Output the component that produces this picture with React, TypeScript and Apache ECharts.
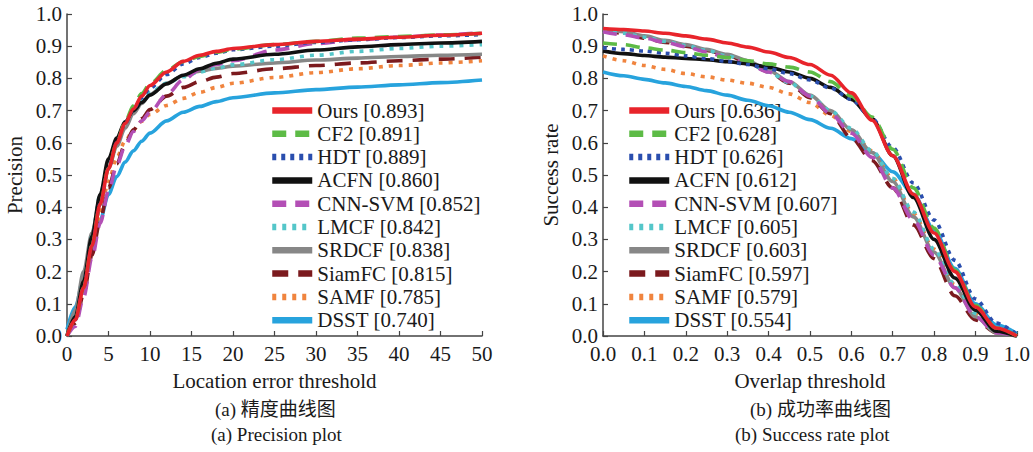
import React, { useEffect, useRef } from "react";
import * as echarts from "echarts";

const methods = ["Ours", "CF2", "HDT", "ACFN", "CNN-SVM", "LMCF", "SRDCF", "SiamFC", "SAMF", "DSST"];
const precisionScores = ["0.893", "0.891", "0.889", "0.860", "0.852", "0.842", "0.838", "0.815", "0.785", "0.740"];
const successScores = ["0.636", "0.628", "0.626", "0.612", "0.607", "0.605", "0.603", "0.597", "0.579", "0.554"];

const precisionX = [0, 1, 2, 3, 4, 5, 6, 7, 8, 9, 10, 12, 14, 16, 18, 20, 25, 30, 35, 40, 45, 50];
const precOurs = [0, 0.05, 0.15, 0.28, 0.41, 0.52, 0.6, 0.66, 0.705, 0.745, 0.778, 0.82, 0.853, 0.872, 0.884, 0.893, 0.905, 0.915, 0.922, 0.928, 0.934, 0.94];
const precCF2 = [0, 0.05, 0.15, 0.28, 0.41, 0.52, 0.6, 0.665, 0.715, 0.753, 0.783, 0.825, 0.852, 0.868, 0.881, 0.891, 0.905, 0.915, 0.925, 0.93, 0.935, 0.94];
const precHDT = [0, 0.05, 0.15, 0.28, 0.41, 0.52, 0.6, 0.66, 0.705, 0.74, 0.77, 0.812, 0.845, 0.865, 0.878, 0.889, 0.9, 0.912, 0.92, 0.927, 0.932, 0.936];
const precACFN = [0, 0.06, 0.17, 0.31, 0.44, 0.55, 0.615, 0.665, 0.7, 0.725, 0.748, 0.783, 0.81, 0.83, 0.847, 0.86, 0.875, 0.888, 0.898, 0.905, 0.91, 0.915];
const precCNNSVM = [0, 0.03, 0.12, 0.24, 0.35, 0.45, 0.53, 0.59, 0.635, 0.668, 0.695, 0.75, 0.795, 0.828, 0.843, 0.855, 0.888, 0.908, 0.92, 0.928, 0.935, 0.942];
const precLMCF = [0, 0.06, 0.17, 0.31, 0.44, 0.54, 0.61, 0.66, 0.7, 0.73, 0.755, 0.785, 0.805, 0.82, 0.832, 0.842, 0.858, 0.872, 0.884, 0.893, 0.9, 0.905];
const precSRDCF = [0, 0.08, 0.2, 0.32, 0.43, 0.52, 0.59, 0.645, 0.69, 0.722, 0.75, 0.785, 0.808, 0.822, 0.831, 0.838, 0.848, 0.857, 0.863, 0.868, 0.872, 0.875];
const precSiamFC = [0, 0.04, 0.13, 0.25, 0.36, 0.46, 0.535, 0.595, 0.64, 0.675, 0.703, 0.745, 0.772, 0.79, 0.804, 0.815, 0.83, 0.84, 0.848, 0.855, 0.86, 0.866];
const precSAMF = [0, 0.05, 0.15, 0.27, 0.38, 0.48, 0.555, 0.605, 0.64, 0.667, 0.688, 0.716, 0.738, 0.757, 0.772, 0.785, 0.803, 0.818, 0.83, 0.84, 0.848, 0.855];
const precDSST = [0.02, 0.09, 0.18, 0.27, 0.36, 0.44, 0.495, 0.54, 0.575, 0.605, 0.63, 0.668, 0.695, 0.713, 0.728, 0.74, 0.755, 0.765, 0.773, 0.78, 0.787, 0.795];

const successX = [0, 0.05, 0.1, 0.15, 0.2, 0.25, 0.3, 0.35, 0.4, 0.45, 0.5, 0.55, 0.6, 0.65, 0.7, 0.75, 0.8, 0.85, 0.9, 0.95, 1.0];
const succOurs = [0.955, 0.952, 0.947, 0.94, 0.932, 0.922, 0.91, 0.897, 0.882, 0.865, 0.843, 0.81, 0.755, 0.67, 0.56, 0.44, 0.32, 0.2, 0.09, 0.025, 0];
const succCF2 = [0.91, 0.905, 0.895, 0.888, 0.88, 0.872, 0.865, 0.855, 0.845, 0.835, 0.82, 0.79, 0.745, 0.68, 0.58, 0.46, 0.335, 0.205, 0.095, 0.025, 0];
const succHDT = [0.895, 0.89, 0.885, 0.878, 0.87, 0.862, 0.853, 0.843, 0.83, 0.815, 0.795, 0.77, 0.735, 0.675, 0.585, 0.475, 0.36, 0.235, 0.115, 0.04, 0.005];
const succACFN = [0.885, 0.877, 0.871, 0.866, 0.862, 0.858, 0.852, 0.845, 0.835, 0.82, 0.8, 0.772, 0.735, 0.675, 0.56, 0.43, 0.3, 0.18, 0.08, 0.015, 0];
const succCNNSVM = [0.945, 0.935, 0.925, 0.912, 0.898, 0.882, 0.865, 0.845, 0.82, 0.79, 0.745, 0.69, 0.63, 0.555, 0.46, 0.36, 0.25, 0.15, 0.06, 0.01, 0];
const succLMCF = [0.948, 0.94, 0.928, 0.915, 0.902, 0.887, 0.87, 0.85, 0.82, 0.787, 0.745, 0.7, 0.645, 0.575, 0.49, 0.385, 0.27, 0.16, 0.07, 0.015, 0];
const succSRDCF = [0.955, 0.945, 0.932, 0.918, 0.905, 0.89, 0.875, 0.855, 0.825, 0.79, 0.748, 0.7, 0.64, 0.57, 0.48, 0.37, 0.26, 0.15, 0.06, 0.01, 0];
const succSiamFC = [0.95, 0.94, 0.925, 0.912, 0.9, 0.887, 0.872, 0.85, 0.82, 0.785, 0.74, 0.69, 0.615, 0.545, 0.46, 0.345, 0.24, 0.125, 0.05, 0.01, 0];
const succSAMF = [0.87, 0.855, 0.84, 0.828, 0.815, 0.805, 0.795, 0.785, 0.772, 0.752, 0.725, 0.685, 0.635, 0.575, 0.49, 0.38, 0.27, 0.16, 0.07, 0.015, 0];
const succDSST = [0.82, 0.808, 0.797, 0.786, 0.775, 0.762, 0.748, 0.732, 0.715, 0.695, 0.672, 0.645, 0.613, 0.57, 0.51, 0.44, 0.33, 0.21, 0.1, 0.035, 0.008];

const precisionData = [precOurs, precCF2, precHDT, precACFN, precCNNSVM, precLMCF, precSRDCF, precSiamFC, precSAMF, precDSST];
const successData = [succOurs, succCF2, succHDT, succACFN, succCNNSVM, succLMCF, succSRDCF, succSiamFC, succSAMF, succDSST];

const colors = ["#e8242b", "#5dbb46", "#2a4eae", "#111111", "#b34fb5", "#54c6c9", "#878787", "#7b1a1e", "#f0843e", "#27a3dd"];
const dashes: any[] = ["solid", [14, 9], [4, 5], "solid", [14, 9], [4, 6], "solid", [16, 10], [4, 6], "solid"];

const FONT = '"Liberation Serif", "Times New Roman", "Noto Sans CJK SC", serif';

export default function App() {
  const ref = useRef<HTMLDivElement>(null);
  useEffect(() => {
    if (!ref.current) return;
    const chart = echarts.init(ref.current, undefined, { renderer: "svg" });
    const series: any[] = [];
    methods.forEach((m, i) => {
      const common = {
        type: "line",
        name: m,
        symbol: "none",
        showSymbol: false,
        smooth: 0.3,
        smoothMonotone: "x",
        itemStyle: { color: colors[i] },
        lineStyle: { color: colors[i], width: 3.6, type: dashes[i] },
        z: 20 - i,
      };
      series.push({ ...common, xAxisIndex: 0, yAxisIndex: 0, data: precisionX.map((x, j) => [x, precisionData[i][j]]) });
      series.push({ ...common, xAxisIndex: 1, yAxisIndex: 1, data: successX.map((x, j) => [x, successData[i][j]]) });
    });
    const axisCommon = {
      axisLine: { lineStyle: { color: "#444", width: 1.5 } },
      axisTick: { inside: true, length: 5, lineStyle: { color: "#444", width: 1.2 } },
      splitLine: { show: false },
      nameTextStyle: { fontFamily: FONT, fontSize: 21, color: "#1a1a1a", lineHeight: 21 },
      nameLocation: "middle",
    };
    const labelStyle = { fontFamily: FONT, fontSize: 21, color: "#1a1a1a", lineHeight: 16 };
    const legendCommon = {
      orient: "vertical",
      data: methods,
      itemWidth: 40,
      itemHeight: 14,
      itemGap: 2.3,
      textStyle: { fontFamily: FONT, fontSize: 21, color: "#1a1a1a", lineHeight: 20 },
      lineStyle: { width: 6.5 },
      itemStyle: { opacity: 0 },
      selectedMode: false,
    };
    chart.setOption({
      animation: false,
      grid: [
        { left: 67, top: 14, width: 415, height: 322 },
        { left: 603, top: 14, width: 415, height: 322 },
      ],
      xAxis: [
        {
          ...axisCommon,
          type: "value",
          gridIndex: 0,
          min: 0,
          max: 50,
          interval: 5,
          name: "Location error threshold",
          nameGap: 34,
          axisLabel: { ...labelStyle, margin: 10 },
        },
        {
          ...axisCommon,
          type: "value",
          gridIndex: 1,
          min: 0,
          max: 1,
          interval: 0.1,
          name: "Overlap threshold",
          nameGap: 34,
          axisLabel: { ...labelStyle, margin: 10, formatter: (v: number) => v.toFixed(1) },
        },
      ],
      yAxis: [
        {
          ...axisCommon,
          type: "value",
          gridIndex: 0,
          min: 0,
          max: 1,
          interval: 0.1,
          name: "Precision",
          nameGap: 42,
          axisLabel: { ...labelStyle, fontSize: 21, margin: 5, formatter: (v: number) => v.toFixed(1) },
        },
        {
          ...axisCommon,
          type: "value",
          gridIndex: 1,
          min: 0,
          max: 1,
          interval: 0.1,
          name: "Success rate",
          nameGap: 42,
          axisLabel: { ...labelStyle, fontSize: 21, margin: 5, formatter: (v: number) => v.toFixed(1) },
        },
      ],
      legend: [
        {
          ...legendCommon,
          left: 264,
          top: 95,
          formatter: (name: string) => `${name} [${precisionScores[methods.indexOf(name)]}]`,
        },
        {
          ...legendCommon,
          left: 621,
          top: 95,
          formatter: (name: string) => `${name} [${successScores[methods.indexOf(name)]}]`,
        },
      ],
      graphic: [
        { type: "text", left: 275 - 60, top: 400, style: { text: "(a) 精度曲线图", font: `19px ${FONT}`, fill: "#1a1a1a" } },
        { type: "text", left: 275 - 64, top: 425, style: { text: "(a) Precision plot", font: `19px ${FONT}`, fill: "#1a1a1a" } },
        { type: "text", left: 810 - 60, top: 400, style: { text: "(b) 成功率曲线图", font: `19px ${FONT}`, fill: "#1a1a1a" } },
        { type: "text", left: 810 - 75, top: 425, style: { text: "(b) Success rate plot", font: `19px ${FONT}`, fill: "#1a1a1a" } },
      ],
      series,
    });
    return () => chart.dispose();
  }, []);
  return <div ref={ref} style={{ position: "fixed", left: 0, top: 0, width: 1033, height: 452, background: "#fff" }} />;
}
